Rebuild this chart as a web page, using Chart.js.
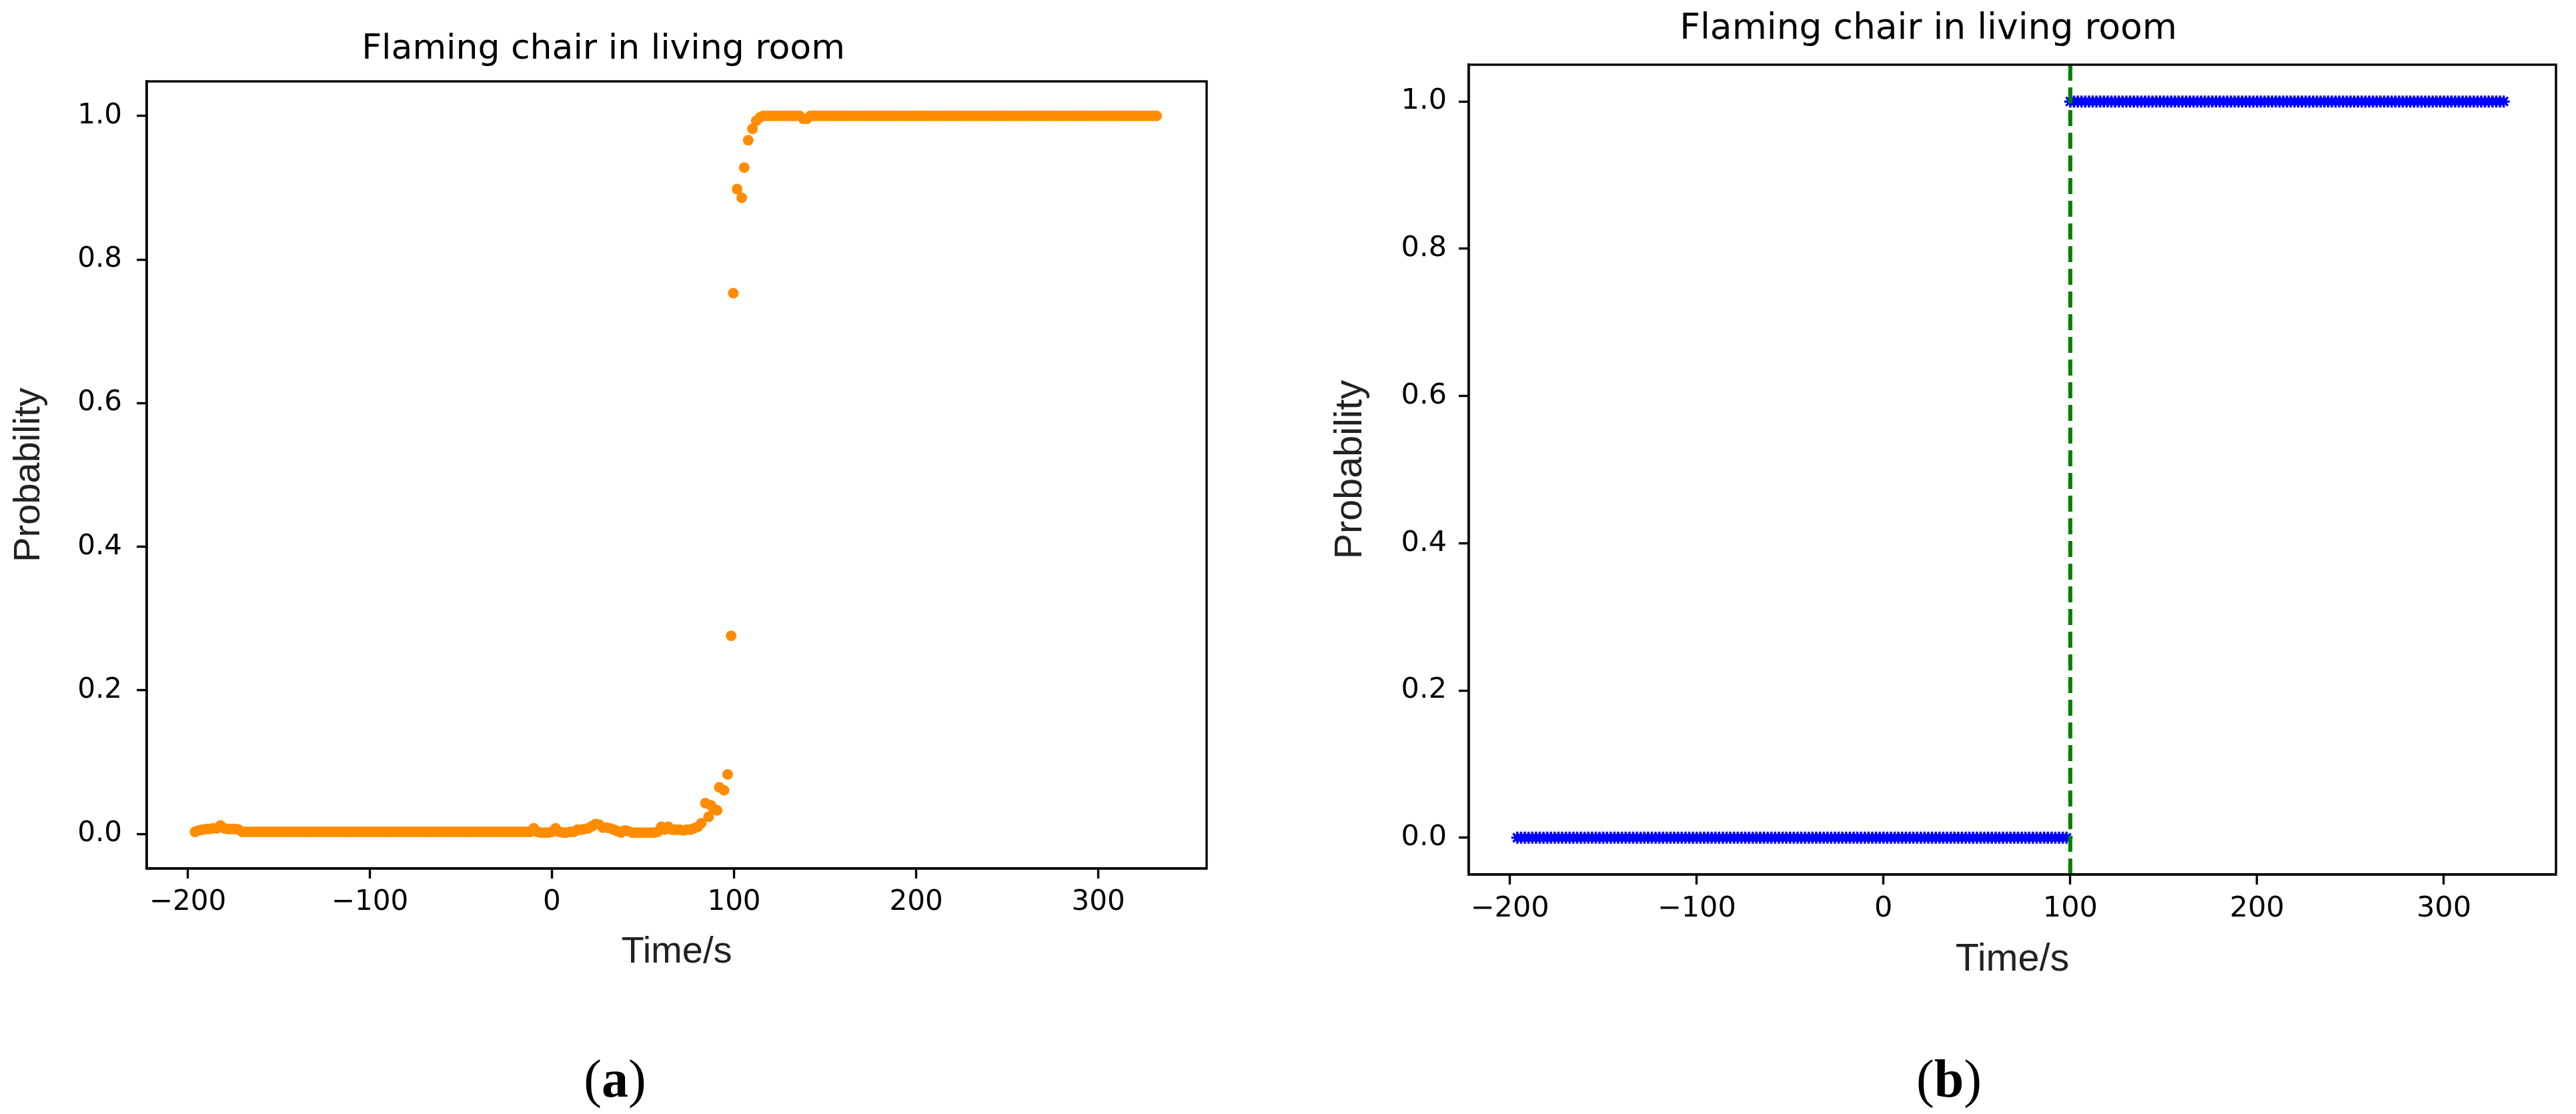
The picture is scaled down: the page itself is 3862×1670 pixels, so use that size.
<!DOCTYPE html>
<html><head><meta charset="utf-8">
<script src="https://cdn.jsdelivr.net/npm/chart.js@4.4.1/dist/chart.umd.min.js"></script>
<style>
html,body{margin:0;padding:0;background:#fff;}
body{width:3862px;height:1670px;position:relative;overflow:hidden;}
canvas{position:absolute;}
.cap{position:absolute;font-family:"Liberation Serif","DejaVu Serif",serif;font-size:80px;color:#000;transform:translate(-50%,-50%);line-height:1;white-space:nowrap;}
.cap b{font-weight:bold;}
</style></head><body>
<canvas id="chartA" width="1900" height="1500" style="left:0;top:0;width:1900px;height:1500px"></canvas>
<canvas id="chartB" width="1912" height="1500" style="left:1950px;top:0;width:1912px;height:1500px"></canvas>
<div class="cap" style="left:922px;top:1617px">(<b>a</b>)</div>
<div class="cap" style="left:2922px;top:1617px">(<b>b</b>)</div>
<script>
// ---------- shared text ----------
const chartTitle = 'Flaming chair in living room';
const xAxisLabel = 'Time/s';
const yAxisLabel = 'Probability';
const tickValuesX = [-200, -100, 0, 100, 200, 300];
const tickLabelsX = ['\u2212200', '\u2212100', '0', '100', '200', '300'];
const tickValuesY = [0, 0.2, 0.4, 0.6, 0.8, 1.0];
const tickLabelsY = ['0.0', '0.2', '0.4', '0.6', '0.8', '1.0'];

// ---------- (a) predicted probability ----------
const timeA = [
-196,-194,-192,-190,-188,-186,-184,-182,-180,-178,
-176,-174,-172,-170,-168,-166,-164,-162,-160,-158,
-156,-154,-152,-150,-148,-146,-144,-142,-140,-138,
-136,-134,-132,-130,-128,-126,-124,-122,-120,-118,
-116,-114,-112,-110,-108,-106,-104,-102,-100,-98,
-96,-94,-92,-90,-88,-86,-84,-82,-80,-78,
-76,-74,-72,-70,-68,-66,-64,-62,-60,-58,
-56,-54,-52,-50,-48,-46,-44,-42,-40,-38,
-36,-34,-32,-30,-28,-26,-24,-22,-20,-18,
-16,-14,-12,-10,-8,-6,-4,-2,0,2,
4,6,8,10,12,14,16,18,20,22,
24,26,28,30,32,34,36,38,40,42,
44,46,48,50,52,54,56,58,60,62,
64,66,68,70,72,74,76,78,80,82,
84.3,86,87.2,88.8,90.7,91.9,94.5,96.5,98.4,99.6,
101.7,104.2,105.6,107.8,110.1,112.2,114.4,
116,118,120,122,124,126,128,130,132,134,
136,138,140,142,144,146,148,150,152,154,
156,158,160,162,164,166,168,170,172,174,
176,178,180,182,184,186,188,190,192,194,
196,198,200,202,204,206,208,210,212,214,
216,218,220,222,224,226,228,230,232,234,
236,238,240,242,244,246,248,250,252,254,
256,258,260,262,264,266,268,270,272,274,
276,278,280,282,284,286,288,290,292,294,
296,298,300,302,304,306,308,310,312,314,
316,318,320,322,324,326,328,330,332
];
const probA = [
0.003,0.005,0.006,0.007,0.007,0.008,0.008,0.012,0.008,0.007,
0.007,0.007,0.006,0.003,0.003,0.003,0.003,0.003,0.003,0.003,
0.003,0.003,0.003,0.003,0.003,0.003,0.003,0.003,0.003,0.003,
0.003,0.003,0.003,0.003,0.003,0.003,0.003,0.003,0.003,0.003,
0.003,0.003,0.003,0.003,0.003,0.003,0.003,0.003,0.003,0.003,
0.003,0.003,0.003,0.003,0.003,0.003,0.003,0.003,0.003,0.003,
0.003,0.003,0.003,0.003,0.003,0.003,0.003,0.003,0.003,0.003,
0.003,0.003,0.003,0.003,0.003,0.003,0.003,0.003,0.003,0.003,
0.003,0.003,0.003,0.003,0.003,0.003,0.003,0.003,0.003,0.003,
0.003,0.003,0.003,0.008,0.003,0.002,0.002,0.002,0.003,0.008,
0.003,0.002,0.002,0.003,0.003,0.006,0.006,0.007,0.008,0.011,
0.014,0.013,0.009,0.009,0.008,0.006,0.004,0.002,0.005,0.004,
0.002,0.002,0.002,0.002,0.002,0.002,0.002,0.003,0.010,0.006,
0.010,0.006,0.006,0.006,0.005,0.006,0.006,0.008,0.010,0.015,
0.043,0.024,0.040,0.035,0.033,0.065,0.061,0.083,0.276,0.753,
0.898,0.886,0.928,0.966,0.982,0.993,0.998,
1,1,1,1,1,1,1,1,1,1,
1,0.996,0.996,1,1,1,1,1,1,1,
1,1,1,1,1,1,1,1,1,1,
1,1,1,1,1,1,1,1,1,1,
1,1,1,1,1,1,1,1,1,1,
1,1,1,1,1,1,1,1,1,1,
1,1,1,1,1,1,1,1,1,1,
1,1,1,1,1,1,1,1,1,1,
1,1,1,1,1,1,1,1,1,1,
1,1,1,1,1,1,1,1,1,1,
1,1,1,1,1,1,1,1,1
];

// ---------- (b) thresholded decision ----------
const timeB = [
-196,-194,-192,-190,-188,-186,-184,-182,-180,-178,
-176,-174,-172,-170,-168,-166,-164,-162,-160,-158,
-156,-154,-152,-150,-148,-146,-144,-142,-140,-138,
-136,-134,-132,-130,-128,-126,-124,-122,-120,-118,
-116,-114,-112,-110,-108,-106,-104,-102,-100,-98,
-96,-94,-92,-90,-88,-86,-84,-82,-80,-78,
-76,-74,-72,-70,-68,-66,-64,-62,-60,-58,
-56,-54,-52,-50,-48,-46,-44,-42,-40,-38,
-36,-34,-32,-30,-28,-26,-24,-22,-20,-18,
-16,-14,-12,-10,-8,-6,-4,-2,0,2,
4,6,8,10,12,14,16,18,20,22,
24,26,28,30,32,34,36,38,40,42,
44,46,48,50,52,54,56,58,60,62,
64,66,68,70,72,74,76,78,80,82,
84,86,88,90,92,94,96,98,100,102,
104,106,108,110,112,114,116,118,120,122,
124,126,128,130,132,134,136,138,140,142,
144,146,148,150,152,154,156,158,160,162,
164,166,168,170,172,174,176,178,180,182,
184,186,188,190,192,194,196,198,200,202,
204,206,208,210,212,214,216,218,220,222,
224,226,228,230,232,234,236,238,240,242,
244,246,248,250,252,254,256,258,260,262,
264,266,268,270,272,274,276,278,280,282,
284,286,288,290,292,294,296,298,300,302,
304,306,308,310,312,314,316,318,320,322,
324,326,328,330,332
];
const probB = [
0,0,0,0,0,0,0,0,0,0,
0,0,0,0,0,0,0,0,0,0,
0,0,0,0,0,0,0,0,0,0,
0,0,0,0,0,0,0,0,0,0,
0,0,0,0,0,0,0,0,0,0,
0,0,0,0,0,0,0,0,0,0,
0,0,0,0,0,0,0,0,0,0,
0,0,0,0,0,0,0,0,0,0,
0,0,0,0,0,0,0,0,0,0,
0,0,0,0,0,0,0,0,0,0,
0,0,0,0,0,0,0,0,0,0,
0,0,0,0,0,0,0,0,0,0,
0,0,0,0,0,0,0,0,0,0,
0,0,0,0,0,0,0,0,0,0,
0,0,0,0,0,0,0,0,1,1,
1,1,1,1,1,1,1,1,1,1,
1,1,1,1,1,1,1,1,1,1,
1,1,1,1,1,1,1,1,1,1,
1,1,1,1,1,1,1,1,1,1,
1,1,1,1,1,1,1,1,1,1,
1,1,1,1,1,1,1,1,1,1,
1,1,1,1,1,1,1,1,1,1,
1,1,1,1,1,1,1,1,1,1,
1,1,1,1,1,1,1,1,1,1,
1,1,1,1,1,1,1,1,1,1,
1,1,1,1,1,1,1,1,1,1,
1,1,1,1,1
];
const thresholdTime = 100;

// ---------- helpers ----------
const toPoints = (xs, ys) => xs.map((x, i) => ({x: x, y: ys[i]}));

const framePlugin = {
  id: 'frame',
  afterDatasetsDraw(chart) {
    const {ctx, chartArea: a} = chart;
    ctx.save();
    ctx.strokeStyle = '#000';
    ctx.lineWidth = 3.4;
    ctx.strokeRect(a.left, a.top, a.right - a.left, a.bottom - a.top);
    ctx.restore();
  }
};

function makeOptions(o) {
  return {
    responsive: false,
    animation: false,
    events: [],
    layout: {padding: {left: 0, top: 0, right: o.padRight, bottom: 0}},
    plugins: {
      legend: {display: false},
      tooltip: {enabled: false},
      title: {
        display: true, text: chartTitle, color: '#000',
        font: {family: 'DejaVu Sans', size: o.titleFont, weight: 'normal'},
        padding: {top: o.titlePadTop, bottom: o.titlePadBottom}
      }
    },
    scales: {
      x: {
        type: 'linear', min: o.xMin, max: o.xMax,
        afterBuildTicks: s => { s.ticks = tickValuesX.map(v => ({value: v})); },
        afterFit: s => { s.height = o.xAxisH; },
        ticks: {
          autoSkip: false, maxRotation: 0, padding: o.xTickPad, color: '#000',
          font: {family: 'DejaVu Sans', size: o.tickFont},
          callback: (v, i) => tickLabelsX[i]
        },
        grid: {drawOnChartArea: false, drawTicks: true, tickLength: 15, tickWidth: 3.4, tickColor: '#000'},
        border: {display: true, color: '#000', width: 3.4},
        title: {
          display: true, text: xAxisLabel, color: '#222',
          font: {family: 'Liberation Sans', size: o.labelFont},
          padding: {top: 0, bottom: o.xTitlePad}
        }
      },
      y: {
        type: 'linear', min: o.yMin, max: o.yMax,
        afterBuildTicks: s => { s.ticks = tickValuesY.map(v => ({value: v})); },
        afterFit: s => { s.width = o.yAxisW; },
        ticks: {
          autoSkip: false, padding: o.yTickPad, color: '#000',
          font: {family: 'DejaVu Sans', size: o.tickFont},
          callback: (v, i) => tickLabelsY[i]
        },
        grid: {drawOnChartArea: false, drawTicks: true, tickLength: 15, tickWidth: 3.4, tickColor: '#000'},
        border: {display: true, color: '#000', width: 3.4},
        title: {
          display: true, text: yAxisLabel, color: '#222',
          font: {family: 'Liberation Sans', size: o.labelFont},
          padding: {top: o.yTitlePad, bottom: 0}
        }
      }
    }
  };
}

// ---------- chart (a) ----------
const optsA = {
  padRight: 91, xAxisH: 198, yAxisW: 220,
  xMin: -222.5, xMax: 359.5, yMin: -0.048, yMax: 1.048,
  titleFont: 52, titlePadTop: 43, titlePadBottom: 16.6,
  tickFont: 42, labelFont: 56,
  xTickPad: 10.8, yTickPad: 22, xTitlePad: 38.4, yTitlePad: 10.4
};
new Chart(document.getElementById('chartA'), {
  type: 'scatter',
  data: {datasets: [{
    data: toPoints(timeA, probA),
    backgroundColor: '#ff8c00', borderWidth: 0,
    pointRadius: 8, pointHoverRadius: 8
  }]},
  options: makeOptions(optsA),
  plugins: [framePlugin]
});

// ---------- chart (b) ----------
const optsB = {
  padRight: 30, xAxisH: 189, yAxisW: 252,
  xMin: -222, xMax: 360, yMin: -0.05, yMax: 1.05,
  titleFont: 53.5, titlePadTop: 11.9, titlePadBottom: 20.9,
  tickFont: 43, labelFont: 57.5,
  xTickPad: 10.7, yTickPad: 18, xTitlePad: 26.5, yTitlePad: 40.5
};
new Chart(document.getElementById('chartB'), {
  type: 'scatter',
  data: {datasets: [
    {
      type: 'line',
      data: [{x: thresholdTime, y: optsB.yMin}, {x: thresholdTime, y: optsB.yMax}],
      borderColor: '#008000', borderWidth: 6, borderDash: [24, 10],
      pointRadius: 0, fill: false, showLine: true
    },
    {
      data: toPoints(timeB, probB),
      pointStyle: 'star', borderColor: '#0000ff', backgroundColor: '#0000ff',
      borderWidth: 3.5, pointRadius: 9, pointHoverRadius: 9
    }
  ]},
  options: makeOptions(optsB),
  plugins: [framePlugin]
});
</script>
</body></html>
